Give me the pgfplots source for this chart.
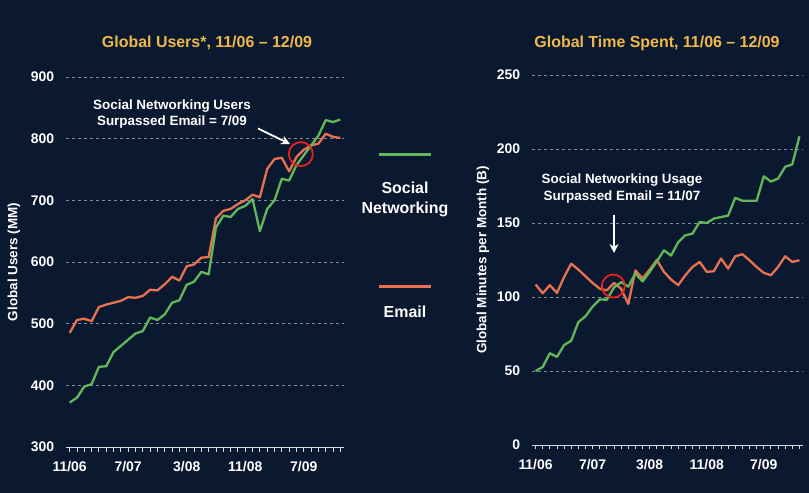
\documentclass[border=0pt]{standalone}
\usepackage{pgfplots}
\pgfplotsset{compat=1.18}
\usetikzlibrary{arrows.meta}
\usepackage{fontspec}
\setmainfont{Liberation Sans}
\definecolor{bg}{RGB}{11,25,48}
\definecolor{sngreen}{RGB}{98,184,88}
\definecolor{emorange}{RGB}{232,114,80}
\definecolor{ttl}{RGB}{240,184,72}
\definecolor{gridc}{RGB}{125,140,165}
\definecolor{circ}{RGB}{230,35,30}
\definecolor{axc}{RGB}{215,220,228}
\pgfplotstableread{
i sn em
0 372 485
1 380 506
2 398 508
3 402 504
4 430 527
5 431 531
6 454 534
7 464 537
8 474 543
9 484 542
10 488 545
11 510 555
12 506 554
13 515 564
14 534 576
15 538 570
16 563 593
17 568 596
18 584 607
19 580 608
20 656 671
21 675 683
22 673 686
23 686 694
24 691 700
25 702 709
26 650 705
27 686 751
28 700 767
29 735 769
30 732 747
31 757 770
32 773 782
33 789 789
34 805 792
35 830 808
36 827 803
37 831 801
}\users
\pgfplotstableread{
i sn em
0 50 108.5
1 52.7 102.5
2 62 108
3 59.5 102.7
4 67.5 113.5
5 70.5 122.5
6 83 118.5
7 87 114
8 93.5 109.5
9 98.3 105.6
10 98.2 104.5
11 106.5 109.5
12 110 105.6
13 107 95.3
14 116 118
15 110.5 112.5
16 117 118.5
17 124 125
18 131.5 117
19 128 111.8
20 137 108
21 141.7 114.7
22 142.8 120.3
23 150.7 123.7
24 150 117
25 153 117.4
26 154 126
27 155 119.2
28 167 127.5
29 165 128.9
30 165 124.8
31 165 120.3
32 181.5 116.3
33 178 114.7
34 180 120.3
35 188 127.5
36 189.6 123.7
37 208.5 124.8
}\timespent
\pgfplotsset{
  panel/.style={
    scale only axis,
    anchor=south west,
    xmin=-0.5, xmax=37.5,
    axis x line=bottom,
    axis y line=left,
    x axis line style={-, draw=axc, line width=0.9bp},
    y axis line style={draw=none},
    ytick style={draw=none},
    xtick={0,8,16,24,32},
    xticklabels={11/06,7/07,3/08,11/08,7/09},
    minor xtick={0,...,37},
    xtick align=outside,
    xtick pos=bottom,
    major tick length=4.5bp,
    minor tick length=4.5bp,
    every x tick/.style={draw=axc, line width=0.9bp},
    every minor x tick/.style={draw=axc, line width=0.9bp},
    ymajorgrids,
    major grid style={draw=gridc, dash pattern=on 3bp off 3bp, line width=0.5bp},
    tick label style={font=\fontsize{14}{15}\selectfont\bfseries, text=white},
    /pgf/number format/assume math mode=true,
    xticklabel style={yshift=-6bp},
    yticklabel style={xshift=-6bp},
    every axis plot/.append style={line width=2.3bp, line join=round},
  }
}
\begin{document}
\begin{tikzpicture}
\fill[bg] (0,0) rectangle (809bp,493bp);
\useasboundingbox (0,0) rectangle (809bp,493bp);
% left panel
\begin{axis}[panel, at={(66bp,46bp)}, width=278bp, height=370bp,
  ymin=300, ymax=900, ytick={300,400,...,900}]
\addplot[emorange, no marks] table[x=i, y=em] {\users};
\addplot[sngreen, no marks] table[x=i, y=sn] {\users};
\draw[circ, line width=1.8bp] (axis cs:31.6,775) circle[radius=12bp];
\end{axis}
% right panel
\begin{axis}[panel, at={(532bp,48bp)}, width=271bp, height=370bp,
  ymin=0, ymax=250, ytick={0,50,...,250}]
\addplot[emorange, no marks] table[x=i, y=em] {\timespent};
\addplot[sngreen, no marks] table[x=i, y=sn] {\timespent};
\draw[circ, line width=1.8bp] (axis cs:10.9,107.4) circle[radius=11.5bp];
\end{axis}
% titles
\node[text=ttl, font=\fontsize{16}{18}\selectfont\bfseries] at (207bp,450bp) {Global Users*, 11/06 – 12/09};
\node[text=ttl, font=\fontsize{16}{18}\selectfont\bfseries] at (657bp,450bp) {Global Time Spent, 11/06 – 12/09};
% y labels
\node[rotate=90, text=white, font=\fontsize{13.5}{15}\selectfont\bfseries] at (14bp,231bp) {Global Users (MM)};
\node[rotate=90, text=white, font=\fontsize{13.5}{15}\selectfont\bfseries] at (483bp,233bp) {Global Minutes per Month (B)};
% annotations
\node[text=white, align=center, font=\fontsize{13.5}{17}\selectfont\bfseries] at (172bp,379bp) {Social Networking Users\\Surpassed Email = 7/09};
\draw[white, line width=1.8bp, -{Stealth[length=9bp,width=9bp]}] (258bp,364.5bp) -- (290bp,349bp);
\node[text=white, align=center, font=\fontsize{13.5}{17}\selectfont\bfseries] at (622bp,304.5bp) {Social Networking Usage\\Surpassed Email = 11/07};
\draw[white, line width=1.8bp, -{Stealth[length=9bp,width=9bp]}] (614bp,278bp) -- (614bp,240bp);
% legend
\draw[sngreen, line width=2.5bp] (379bp,338.5bp) -- (431bp,338.5bp);
\node[text=white, align=center, font=\fontsize{16}{19.5}\selectfont\bfseries] at (405bp,293.5bp) {Social\\Networking};
\draw[emorange, line width=2.5bp] (379bp,206.5bp) -- (431bp,206.5bp);
\node[text=white, font=\fontsize{16}{19}\selectfont\bfseries] at (405bp,181bp) {Email};
\end{tikzpicture}
\end{document}
